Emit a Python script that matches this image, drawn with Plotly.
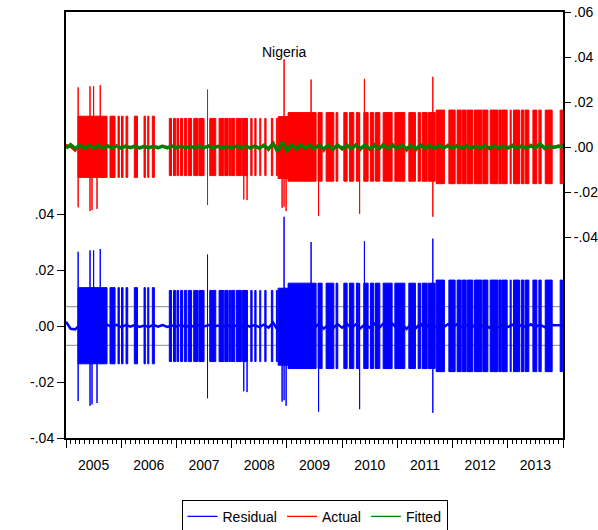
import plotly.graph_objects as go

# ---------------- data ----------------
year_ticks = [2005, 2006, 2007, 2008, 2009, 2010, 2011, 2012, 2013, 2014]
year_label_pos = [2005.5, 2006.5, 2007.5, 2008.5, 2009.5, 2010.5, 2011.5, 2012.5, 2013.5]
year_labels = ["2005", "2006", "2007", "2008", "2009", "2010", "2011", "2012", "2013"]

left_ticks = [-0.04, -0.02, 0.00, 0.02, 0.04]
left_labels = ["-.04", "-.02", ".00", ".02", ".04"]
right_ticks = [-0.04, -0.02, 0.00, 0.02, 0.04, 0.06]
right_labels = ["-.04", "-.02", ".00", ".02", ".04", ".06"]

series_names = ["Residual", "Actual", "Fitted"]
series_colors = ["#0000ff", "#ff0000", "#008000"]

# periods where the residual swings back and forth (decimal years)
block_start = [2005.217, 2005.797, 2005.942, 2006.005, 2006.087, 2006.237, 2006.413, 2006.480, 2006.563,
               2006.871, 2006.947, 2007.011, 2007.071, 2007.143, 2007.216, 2007.313, 2007.409, 2007.603,
               2007.772, 2007.875, 2007.953, 2007.995, 2008.085, 2008.194, 2008.346, 2008.419, 2008.509,
               2008.600, 2008.719, 2008.810, 2008.841, 2009.022, 2009.565, 2009.710, 2009.891, 2010.031,
               2010.132, 2010.259, 2010.393, 2010.513, 2010.603, 2010.743, 2010.955, 2011.208, 2011.377,
               2011.449, 2011.558, 2011.703, 2011.933, 2012.083, 2012.174, 2012.264, 2012.397, 2012.549,
               2012.681, 2012.839, 2012.893, 2013.043, 2013.103, 2013.243, 2013.315, 2013.455, 2013.563,
               2013.678, 2013.949]
block_end = [2005.743, 2005.888, 2005.966, 2006.033, 2006.118, 2006.295, 2006.437, 2006.500, 2006.600,
             2006.911, 2006.987, 2007.038, 2007.111, 2007.187, 2007.274, 2007.391, 2007.500, 2007.712,
             2007.857, 2007.935, 2007.984, 2008.056, 2008.176, 2008.284, 2008.370, 2008.442, 2008.527,
             2008.623, 2008.745, 2008.828, 2009.022, 2009.529, 2009.638, 2009.850, 2009.922, 2010.091,
             2010.212, 2010.303, 2010.471, 2010.574, 2010.683, 2010.906, 2011.136, 2011.328, 2011.418,
             2011.540, 2011.685, 2011.853, 2012.047, 2012.156, 2012.246, 2012.368, 2012.531, 2012.640,
             2012.821, 2012.880, 2012.989, 2013.062, 2013.212, 2013.292, 2013.382, 2013.527, 2013.605,
             2013.804, 2013.995]
block_hi = [0.0137] * 9 + [0.0127] * 21 + [0.0135] + [0.0153] * 16 + [0.0164] * 18
block_lo = [-0.0135] * 9 + [-0.0127] * 21 + [-0.0140] + [-0.0152] * 16 + [-0.0163] * 18

# isolated large residuals
spike_year = [2005.220, 2005.435, 2005.471, 2005.500, 2005.562, 2005.620, 2007.563, 2008.219, 2008.279,
              2008.913, 2008.949, 2008.986, 2009.438, 2009.574, 2010.317, 2010.404, 2011.643]
spike_hi = [0.0265, 0.0270, 0.0137, 0.0270, 0.0137, 0.0275, 0.0255, 0.0127, 0.0127,
            0.0135, 0.0390, 0.0135, 0.0300, 0.0153, 0.0153, 0.0303, 0.0312]
spike_lo = [-0.0268, -0.0285, -0.0280, -0.0135, -0.0275, -0.0135, -0.0258, -0.0233, -0.0236,
            -0.0270, -0.0265, -0.0285, -0.0152, -0.0306, -0.0297, -0.0152, -0.0310]

# quiet-day values, monthly from Jan 2005
resid_base = [0.0015, -0.0010, -0.0012, 0.0004, -0.0003, 0.0005, -0.0004, 0.0003, -0.0005, 0.0004, -0.0003, 0.0004,
              -0.0004, 0.0003, -0.0002, 0.0004, -0.0003, 0.0002, -0.0003, 0.0004, -0.0002, 0.0003, -0.0003, 0.0002,
              -0.0002, 0.0003, -0.0003, 0.0002, -0.0004, 0.0003, -0.0002, 0.0003, -0.0003, 0.0002, -0.0003, 0.0004,
              -0.0003, 0.0002, -0.0003, 0.0004, -0.0002, 0.0003, -0.0004, 0.0005, -0.0006, 0.0012, -0.0015, 0.0010,
              -0.0012, 0.0008, -0.0010, 0.0006, -0.0008, 0.0010, -0.0006, 0.0008, -0.0010, 0.0006, -0.0008, 0.0007,
              -0.0006, 0.0008, -0.0007, 0.0006, -0.0008, 0.0007, -0.0006, 0.0008, -0.0007, 0.0009, -0.0008, 0.0007,
              -0.0009, 0.0008, -0.0010, 0.0007, -0.0008, 0.0009, -0.0010, 0.0008, -0.0007, 0.0006, -0.0005, 0.0006,
              -0.0005, 0.0006, -0.0004, 0.0005, -0.0006, 0.0005, -0.0004, 0.0005, -0.0006, 0.0004, -0.0005, 0.0006,
              -0.0004, 0.0005, -0.0006, 0.0004, -0.0005, 0.0006, -0.0004, 0.0005, -0.0004, 0.0006, 0.0003, 0.0004,
              0.0003]
fitted_base = [-0.0005, 0.0010, -0.0006, 0.0007, -0.0005, 0.0006, -0.0005, 0.0006, -0.0004, 0.0005, -0.0004, 0.0004,
               -0.0004, 0.0004, -0.0003, 0.0004, -0.0004, 0.0003, -0.0003, 0.0003, -0.0003, 0.0003, -0.0003, 0.0004,
               -0.0003, 0.0004, -0.0004, 0.0003, -0.0004, 0.0004, -0.0003, 0.0004, -0.0004, 0.0003, -0.0004, 0.0003,
               -0.0004, 0.0004, -0.0003, 0.0004, -0.0004, 0.0004, -0.0005, 0.0006, -0.0008, 0.0014, -0.0018, 0.0022,
               -0.0014, 0.0010, -0.0008, 0.0009, -0.0007, 0.0008, -0.0006, 0.0007, -0.0008, 0.0008, -0.0009, 0.0007,
               -0.0006, 0.0007, -0.0007, 0.0008, -0.0006, 0.0007, -0.0007, 0.0006, -0.0007, 0.0008, -0.0006, 0.0007,
               -0.0008, 0.0007, -0.0007, 0.0006, -0.0008, 0.0007, -0.0006, 0.0006, -0.0005, 0.0006, -0.0004, 0.0005,
               -0.0005, 0.0005, -0.0004, 0.0005, -0.0005, 0.0004, -0.0005, 0.0005, -0.0004, 0.0005, -0.0005, 0.0004,
               -0.0004, 0.0005, -0.0005, 0.0004, -0.0005, 0.0005, -0.0004, 0.0014, -0.0005, 0.0004, -0.0002, 0.0003,
               0.0002]
resid_sd = 0.0069

# ---------------- build traces ----------------
FONT = "Liberation Sans, Arial, sans-serif"
FS = 14
BLUE, RED, GREEN = series_colors

def polygons(starts, ends, his, los, s_years, s_his, s_los):
    xs, ys = [], []
    for s, e, h, l in zip(starts, ends, his, los):
        xs += [s, s, e, e, s, None]
        ys += [l, h, h, l, l, None]
    for s, h, l in zip(s_years, s_his, s_los):
        xs += [s, s, s, None]
        ys += [l, h, l, None]
    return xs, ys

bx, by = polygons(block_start, block_end, block_hi, block_lo, spike_year, spike_hi, spike_lo)
base_x = [2005 + i / 12 for i in range(len(resid_base))]
actual_base = [r + f for r, f in zip(resid_base, fitted_base)]
x_rng = [year_ticks[0], year_ticks[-1]]

fig = go.Figure()
# +/- 1 s.e. bands
for v in (resid_sd, -resid_sd):
    fig.add_trace(go.Scatter(x=x_rng, y=[v, v], mode="lines", line=dict(color="#8c8c8c", width=1),
                             showlegend=False, hoverinfo="skip"))
# residual
fig.add_trace(go.Scatter(x=bx, y=by, mode="lines", fill="toself", fillcolor=BLUE,
                         line=dict(color=BLUE, width=1), showlegend=False, hoverinfo="skip"))
fig.add_trace(go.Scatter(x=base_x, y=resid_base, mode="lines", showlegend=False,
                         line=dict(color=BLUE, width=2.5)))
# actual (right axis)
fig.add_trace(go.Scatter(x=bx, y=by, mode="lines", fill="toself", fillcolor=RED, yaxis="y2",
                         line=dict(color=RED, width=1), showlegend=False, hoverinfo="skip"))
fig.add_trace(go.Scatter(x=base_x, y=actual_base, mode="lines", yaxis="y2", showlegend=False,
                         line=dict(color=RED, width=2)))
# fitted (right axis)
fig.add_trace(go.Scatter(x=base_x, y=fitted_base, mode="lines", yaxis="y2", showlegend=False,
                         line=dict(color=GREEN, width=3.5)))
# legend entries (thin lines as in the reference)
for nm, col in zip(series_names, series_colors):
    fig.add_trace(go.Scatter(x=[None], y=[None], mode="lines", name=nm, line=dict(color=col, width=1.2)))
# helper for the year-label axis
fig.add_trace(go.Scatter(x=x_rng, y=[0, 0], xaxis="x2", mode="markers", marker=dict(opacity=0),
                         showlegend=False, hoverinfo="skip"))

fig.update_layout(
    width=598, height=530,
    margin=dict(l=66, r=35, t=12, b=92, autoexpand=False),
    paper_bgcolor="white", plot_bgcolor="white",
    font=dict(family=FONT, size=FS, color="#000000"),
    xaxis=dict(range=x_rng, tickmode="array", tickvals=year_ticks, showticklabels=False,
               ticks="outside", ticklen=8, tickwidth=1, tickcolor="black", automargin=False,
               minor=dict(ticks="outside", ticklen=4, tickwidth=1, tickcolor="black", tick0=2005, dtick=1 / 12),
               showline=True, linecolor="black", linewidth=2, mirror=True,
               showgrid=False, zeroline=False),
    xaxis2=dict(range=x_rng, overlaying="x", anchor="y", side="bottom", tickmode="array",
                tickvals=year_label_pos, ticktext=year_labels, ticks="outside", ticklen=14,
                tickcolor="rgba(0,0,0,0)", showline=False, showgrid=False, zeroline=False, automargin=False),
    yaxis=dict(range=[-0.04, 0.11214], tickmode="array", tickvals=left_ticks, ticktext=left_labels,
               ticks="outside", ticklen=7, tickwidth=1, tickcolor="black", automargin=False,
               showline=True, linecolor="black", linewidth=2, showgrid=False, zeroline=False),
    yaxis2=dict(range=[-0.12933, 0.06], overlaying="y", side="right", tickmode="array",
                tickvals=right_ticks, ticktext=right_labels, automargin=False,
                ticks="outside", ticklen=6, tickwidth=1, tickcolor="black",
                showline=True, linecolor="black", linewidth=2, showgrid=False, zeroline=False),
    legend=dict(orientation="h", x=0.5, xanchor="center", y=-0.145, yanchor="top",
                bordercolor="black", borderwidth=1, font=dict(size=FS), bgcolor="white"),
    annotations=[dict(text="Nigeria", x=0.4406, y=0.93, xref="paper", yref="paper",
                      showarrow=False, font=dict(size=FS))],
)

fig.write_html("out.html", config={"displayModeBar": False},
               post_script="document.body.style.margin='0';")
